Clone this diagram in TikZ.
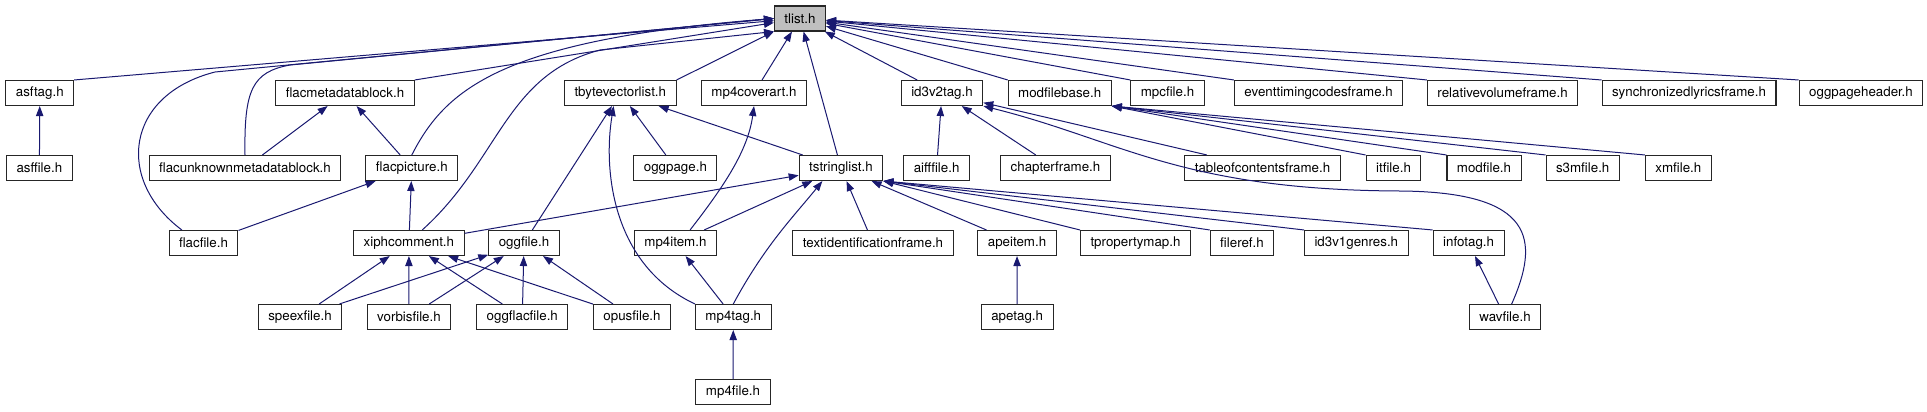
\documentclass[tikz,border=0pt]{standalone}
\usepackage{fontspec}
\setmainfont{TeX Gyre Heros}
\usetikzlibrary{arrows.meta}
\definecolor{edgeblue}{HTML}{191970}

\begin{document}
\begin{tikzpicture}[
    x=0.75pt, y=-0.75pt,
    every node/.style={font=\fontsize{10}{12}\selectfont},
    hdr/.style={draw=black!85, line width=0.8pt, fill=white, inner xsep=7.5pt, inner ysep=0pt, minimum height=18.75pt},
    root/.style={hdr, fill=black!25},
    dep/.style={draw=edgeblue, line width=0.75pt, -{Triangle[length=7.5pt, width=5.5pt]}}
  ]

    \useasboundingbox (0,0) rectangle (1927,411);

    % Root
    \node[root] (tlist) at (800,18.5) {tlist.h};

    % Row 1
    \foreach \n/\x/\lbl in {asftag/39.8/asftag.h, flacmeta/345/flacmetadatablock.h,
        tbvlist/620.3/tbytevectorlist.h, mpcover/754/mp4coverart.h, idtag/942/id3v2tag.h,
        modbase/1059.7/modfilebase.h, mpcfile/1167.5/mpcfile.h,
        etcframe/1318.6/eventtimingcodesframe.h, rvaframe/1502.6/relativevolumeframe.h,
        syltframe/1689/synchronizedlyricsframe.h, oggpagehdr/1861/oggpageheader.h} {
      \node[hdr] (\n) at (\x,93) {\lbl};
    }

    % Row 2
    \foreach \n/\x/\lbl in {asffile/39.4/asffile.h, flacunk/245/flacunknownmetadatablock.h,
        flacpic/411.8/flacpicture.h, oggpage/675.4/oggpage.h, tstrlist/841/tstringlist.h,
        aifffile/936.6/aifffile.h, chapframe/1055.5/chapterframe.h,
        tocframe/1262.5/tableofcontentsframe.h, itfile/1393.5/itfile.h,
        modfile/1484/modfile.h, s3mfile/1582.7/s3mfile.h, xmfile/1678.3/xmfile.h} {
      \node[hdr] (\n) at (\x,168) {\lbl};
    }

    % Row 3
    \foreach \n/\x/\lbl in {flacfile/203.5/flacfile.h, xiph/408.9/xiphcomment.h,
        oggfile/524/oggfile.h, mp4item/675.4/mp4item.h,
        tidframe/873/textidentificationframe.h, apeitem/1017/apeitem.h,
        propmap/1135.5/tpropertymap.h, fileref/1242/fileref.h,
        genres/1356.3/id3v1genres.h, infotag/1468.6/infotag.h} {
      \node[hdr] (\n) at (\x,243) {\lbl};
    }

    % Row 4 and 5
    \foreach \n/\x/\lbl in {speex/300/speexfile.h, vorbis/409/vorbisfile.h,
        oggflac/522.3/oggflacfile.h, opus/632/opusfile.h, mp4tag/733.3/mp4tag.h,
        apetag/1017.2/apetag.h, wavfile/1505/wavfile.h} {
      \node[hdr] (\n) at (\x,317) {\lbl};
    }
    \node[hdr] (mp4file) at (733,392) {mp4file.h};

    % Straight dependencies
    \foreach \a/\b in {asftag.north east/tlist, flacmeta.north east/tlist,
        tbvlist.north east/tlist, mpcover/tlist, tstrlist/tlist, idtag/tlist,
        modbase.north west/tlist, mpcfile.north west/tlist, etcframe.north west/tlist,
        rvaframe.north west/tlist, syltframe.north west/tlist, oggpagehdr.north west/tlist,
        asffile/asftag, flacunk/flacmeta, flacpic/flacmeta, flacfile/flacpic, xiph/flacpic,
        oggfile/tbvlist, oggpage/tbvlist, tstrlist/tbvlist,
        xiph/tstrlist, mp4item/tstrlist, tidframe/tstrlist, apeitem/tstrlist,
        propmap.north west/tstrlist.south east, fileref.north west/tstrlist.south east,
        genres.north west/tstrlist.south east, infotag.north west/tstrlist.south east,
        aifffile/idtag, chapframe/idtag, tocframe/idtag,
        itfile.north west/modbase.south east, modfile.north west/modbase.south east,
        s3mfile.north west/modbase.south east, xmfile.north west/modbase.south east,
        speex/xiph, vorbis/xiph, oggflac/xiph, opus/xiph,
        speex/oggfile, vorbis/oggfile, oggflac/oggfile, opus/oggfile,
        mp4tag/mp4item, mp4file/mp4tag, apetag/apeitem, wavfile/infotag} {
      \draw[dep] (\a) -- (\b);
    }

    % Curved dependencies
    \draw[dep] ([xshift=10pt]flacfile.north west) .. controls (115,180) and (125,95) .. (215,72) -- (tlist.west);
    \draw[dep] (flacunk.north) .. controls (244,90) and (252,72) .. (290,65) -- (tlist.west);
    \draw[dep] (flacpic.north) .. controls (445,90) and (500,40) .. (tlist.west);
    \draw[dep] ([xshift=10pt]xiph.north) .. controls (500,160) and (505,75) .. (600,50) -- (tlist.south west);
    \draw[dep] (mp4tag.north west) .. controls (612,265) and (603,170) .. ([xshift=-5pt]tbvlist.south);
    \draw[dep] ([xshift=11pt]mp4item.north) .. controls (725,185) and (748,150) .. (mpcover.south);
    \draw[dep] (mp4tag.north) .. controls (765,245) and (795,215) .. ([xshift=-14pt]tstrlist.south);
    \draw[dep] ([xshift=5pt]wavfile.north) .. controls (1540,240) and (1535,192) .. (1400,191)
      .. controls (1180,190) and (1120,140) .. (idtag.south east);

  \end{tikzpicture}
\end{document}
